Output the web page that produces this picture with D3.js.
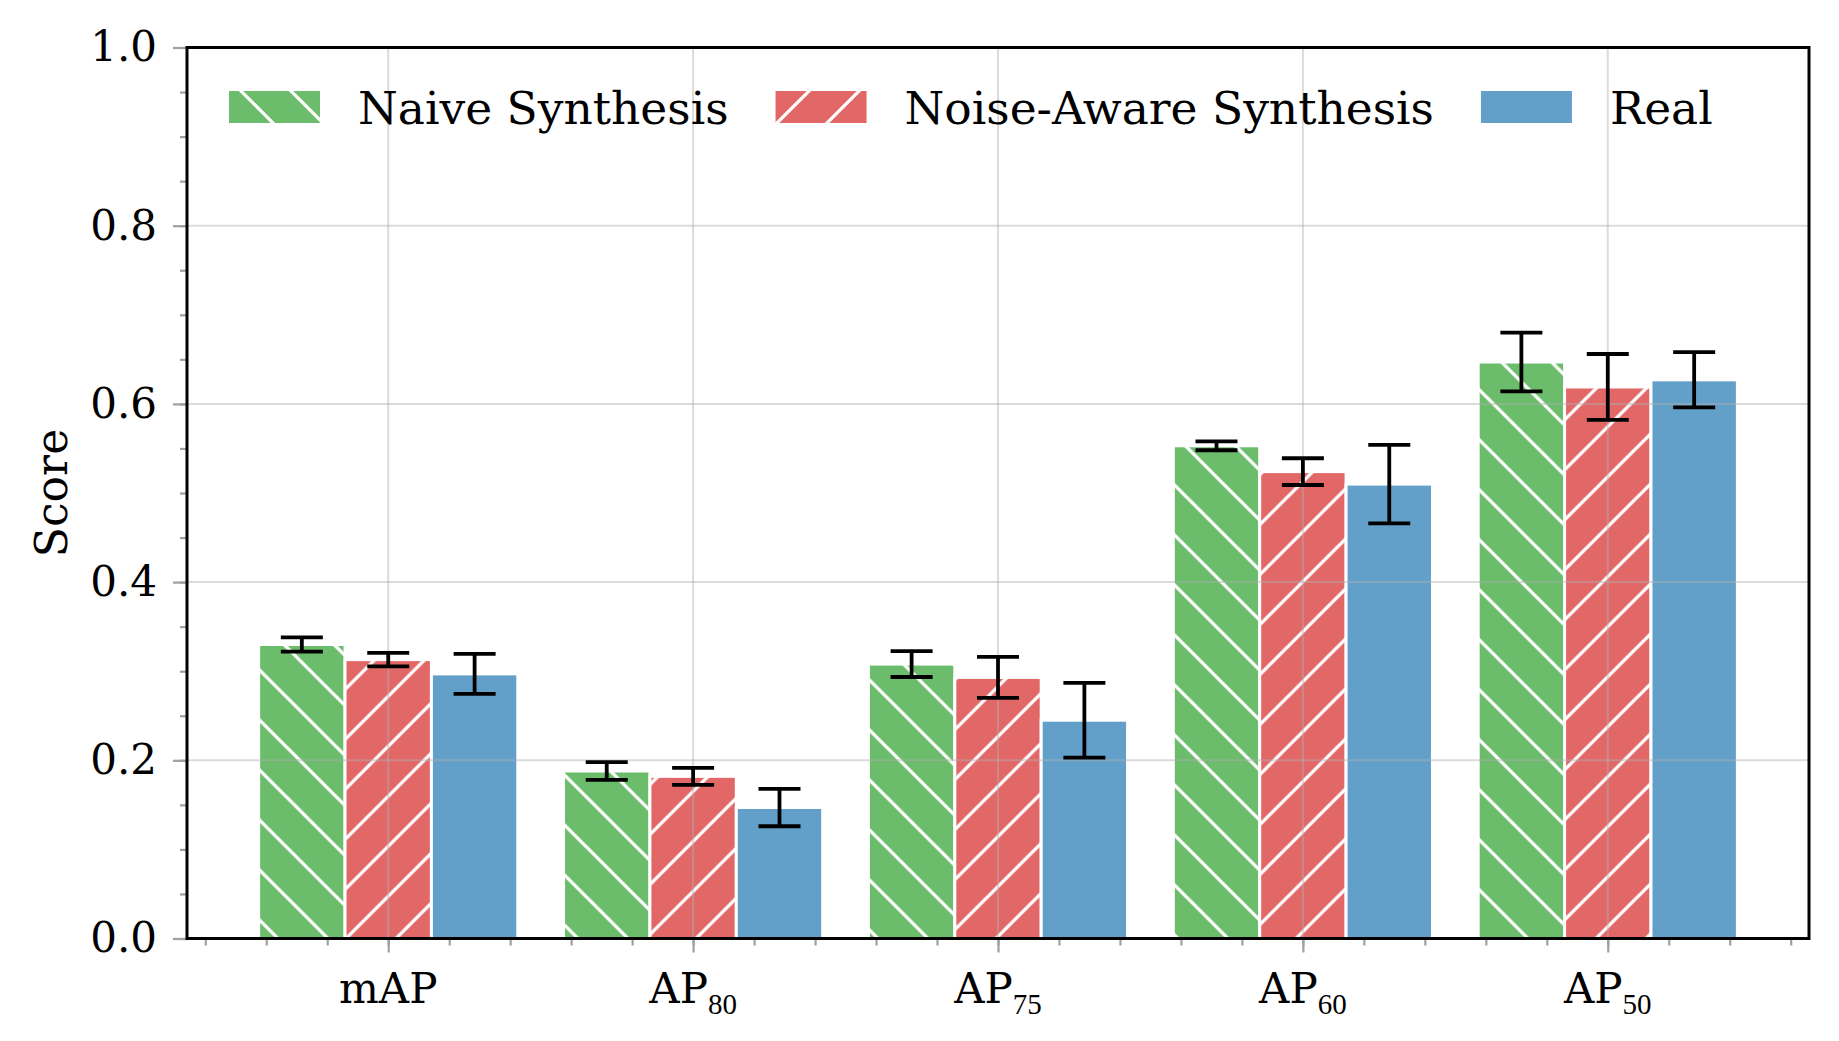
<!DOCTYPE html>
<html>
<head>
<meta charset="utf-8">
<script src="https://cdn.jsdelivr.net/npm/d3@7"></script>
<style>
  body { margin: 0; background: #fff; }
  svg { display: block; }
</style>
</head>
<body>
<svg width="1839" height="1041"></svg>
<script>
// ---- data ----
const catBase = ['mAP', 'AP', 'AP', 'AP', 'AP'];
const catSub = ['', '80', '75', '60', '50'];
const seriesNames = ['Naive Synthesis', 'Noise-Aware Synthesis', 'Real'];
const naiveMean = [0.330, 0.188, 0.308, 0.553, 0.647];
const naiveErr  = [0.008, 0.010, 0.0145, 0.005, 0.033];
const noiseMean = [0.313, 0.182, 0.293, 0.524, 0.619];
const noiseErr  = [0.0075, 0.0095, 0.023, 0.015, 0.037];
const realMean  = [0.297, 0.147, 0.245, 0.510, 0.627];
const realErr   = [0.0225, 0.021, 0.042, 0.044, 0.031];
const yTicks = [0, 0.2, 0.4, 0.6, 0.8, 1.0];
const yLabel = 'Score';

const seriesColors = ['rgb(107,188,107)', 'rgb(226,104,104)', 'rgb(98,160,202)'];
const seriesHatch = ['back', 'fwd', null];

const margin = { left: 187, right: 30, top: 47.5, bottom: 102.5 };
const svg = d3.select('svg');
const width = +svg.attr('width');
const height = +svg.attr('height');
const innerWidth = width - margin.left - margin.right;
const innerHeight = height - margin.top - margin.bottom;

svg.append('rect').attr('width', width).attr('height', height).attr('fill', '#fff');

const g = svg.append('g')
    .attr('transform', `translate(${margin.left},${margin.top})`);

const xScale = d3.scaleLinear().domain([-0.66, 4.66]).range([0, innerWidth]);
const yScale = d3.scaleLinear().domain([0, 1]).range([innerHeight, 0]);
const barW = 0.85 / 3;

// hatch patterns (white lines on colour)
const defs = svg.append('defs');
seriesNames.forEach((name, i) => {
  if (!seriesHatch[i]) return;
  const p = defs.append('pattern')
      .attr('id', 'hatch' + i)
      .attr('patternUnits', 'userSpaceOnUse')
      .attr('width', 50).attr('height', 50);
  p.append('rect').attr('width', 50).attr('height', 50).attr('fill', seriesColors[i]);
  const d = seriesHatch[i] === 'back'
    ? 'M0,0L50,50M-10,40L10,60M40,-10L60,10'
    : 'M0,50L50,0M-10,10L10,-10M40,60L60,40';
  p.append('path').attr('d', d).attr('stroke', '#fff').attr('stroke-width', 3.3).attr('fill', 'none');
});
const fillFor = i => seriesHatch[i] ? `url(#hatch${i})` : seriesColors[i];

const series = [
  { mean: naiveMean, err: naiveErr },
  { mean: noiseMean, err: noiseErr },
  { mean: realMean, err: realErr }
];

// bars
series.forEach((s, si) => {
  const off = (si - 1) * barW;
  g.append('g').selectAll('rect')
    .data(s.mean)
    .join('rect')
      .attr('x', (d, i) => xScale(i + off - barW / 2))
      .attr('width', xScale(barW) - xScale(0))
      .attr('y', d => yScale(d))
      .attr('height', d => yScale(0) - yScale(d))
      .attr('fill', fillFor(si))
      .attr('stroke', '#fff')
      .attr('stroke-width', 3);
});

// grid on top of bars
const grid = g.append('g').attr('stroke', '#b0b0b0').attr('stroke-opacity', 0.45).attr('stroke-width', 2);
yTicks.forEach(t => {
  grid.append('line').attr('x1', 0).attr('x2', innerWidth).attr('y1', yScale(t)).attr('y2', yScale(t));
});
catBase.forEach((c, i) => {
  grid.append('line').attr('x1', xScale(i)).attr('x2', xScale(i)).attr('y1', 0).attr('y2', innerHeight);
});

// error bars
const capHalf = 21;
series.forEach((s, si) => {
  const off = (si - 1) * barW;
  const eg = g.append('g').attr('stroke', '#000').attr('stroke-width', 3.8);
  s.mean.forEach((m, i) => {
    const cx = xScale(i + off);
    const y1 = yScale(m + s.err[i]);
    const y2 = yScale(m - s.err[i]);
    eg.append('line').attr('x1', cx).attr('x2', cx).attr('y1', y1).attr('y2', y2);
    eg.append('line').attr('x1', cx - capHalf).attr('x2', cx + capHalf).attr('y1', y1).attr('y2', y1);
    eg.append('line').attr('x1', cx - capHalf).attr('x2', cx + capHalf).attr('y1', y2).attr('y2', y2);
  });
});

// axes
const tickColor = '#a0a0a0';
const yAxis = d3.axisLeft(yScale).tickValues(yTicks).tickFormat(d3.format('.1f')).tickSize(14).tickPadding(16);
const yMinor = d3.axisLeft(yScale).tickValues(d3.range(0, 1.0001, 0.05)).tickFormat('').tickSize(7);
const xMinor = d3.axisBottom(xScale).tickValues(d3.range(-0.6, 4.61, 0.2)).tickFormat('').tickSize(7);
const xAxis = d3.axisBottom(xScale).tickValues(d3.range(0, 5)).tickFormat('').tickSize(14);

const styleAxis = sel => {
  sel.select('.domain').remove();
  sel.selectAll('.tick line').attr('stroke', tickColor).attr('stroke-width', 2.2);
};
g.append('g').call(yMinor).call(styleAxis);
g.append('g').call(yAxis).call(styleAxis)
  .selectAll('.tick text')
    .attr('fill', '#000')
    .attr('font-family', 'DejaVu Serif')
    .attr('font-size', 42);
g.append('g').attr('transform', `translate(0,${innerHeight})`).call(xMinor).call(styleAxis);
g.append('g').attr('transform', `translate(0,${innerHeight})`).call(xAxis).call(styleAxis);

// x tick labels with subscripts
catBase.forEach((c, i) => {
  const t = g.append('text')
      .attr('x', xScale(i))
      .attr('y', innerHeight + 64)
      .attr('text-anchor', 'middle')
      .attr('font-family', 'DejaVu Serif')
      .attr('font-size', 42)
      .attr('fill', '#000');
  t.append('tspan').text(c);
  if (catSub[i]) {
    t.append('tspan')
      .attr('font-family', 'Liberation Serif')
      .attr('font-size', 29)
      .attr('dy', 11)
      .text(catSub[i]);
  }
});

// spines
g.append('rect')
    .attr('width', innerWidth).attr('height', innerHeight)
    .attr('fill', 'none').attr('stroke', '#000').attr('stroke-width', 3);

// y label
svg.append('text')
    .attr('transform', `translate(67,${margin.top + innerHeight / 2}) rotate(-90)`)
    .attr('text-anchor', 'middle')
    .attr('font-family', 'DejaVu Serif')
    .attr('font-size', 44)
    .text(yLabel);

// legend
const legend = svg.append('g');
let lx = 229;
seriesNames.forEach((name, i) => {
  legend.append('rect')
      .attr('x', lx).attr('y', 91).attr('width', 91).attr('height', 32)
      .attr('fill', fillFor(i));
  const txt = legend.append('text')
      .attr('x', lx + 91 + 38).attr('y', 124)
      .attr('font-family', 'DejaVu Serif')
      .attr('font-size', 45.5)
      .text(name);
  lx += 91 + 38 + txt.node().getComputedTextLength() + 47;
});
</script>
</body>
</html>
